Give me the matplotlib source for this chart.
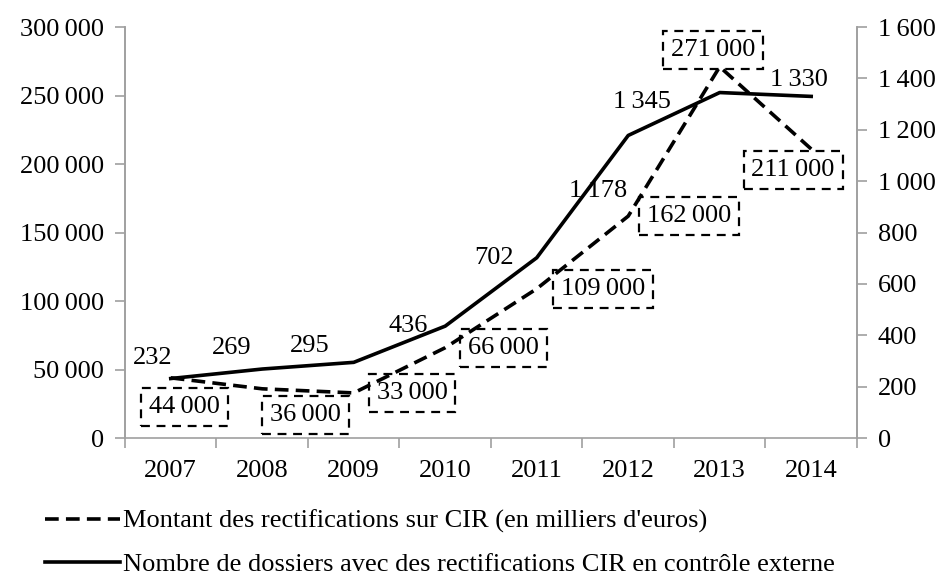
import numpy as np
import matplotlib.pyplot as plt

plt.rcParams['font.family'] = ['Liberation Serif', 'DejaVu Serif']

## Données
annees = ['2007', '2008', '2009', '2010', '2011', '2012', '2013', '2014']
montant = [44000, 36000, 33000, 66000, 109000, 162000, 271000, 211000]
dossiers = [232, 269, 295, 436, 702, 1178, 1345, 1330]

lab_montant = ['44\u2009000', '36\u2009000', '33\u2009000', '66\u2009000',
               '109\u2009000', '162\u2009000', '271\u2009000', '211\u2009000']
lab_dossiers = ['232', '269', '295', '436', '702', '1\u2009178', '1\u2009345', '1\u2009330']

# décalages des étiquettes (points)
off_montant = [(10, -21), (31, -19), (42, 0), (42, 0), (48, 0), (44, 0), (-5, 12), (-13, -15)]
off_dossiers = [(-13, 15), (-22, 15), (-32, 12), (-27, 0), (-31, 0), (-22, -40), (-56, -7), (-9, 12)]

fs = 19
gris = '#a0a0a0'

fig = plt.figure(figsize=(9.42, 5.75), dpi=100)
ax = fig.add_axes([0.1327, 0.238, 0.777, 0.715])
ax2 = ax.twinx()

x = np.arange(len(annees))
l1, = ax.plot(x, montant, color='black', lw=2.6, ls=(0, (3.8, 2)))
l2, = ax2.plot(x, dossiers, color='black', lw=2.6)

ax.set_xlim(-0.5, len(annees) - 0.5)
ax.set_ylim(0, 300000)
ax2.set_ylim(0, 1600)
ax.set_yticks(np.arange(0, 300001, 50000))
ax2.set_yticks(np.arange(0, 1601, 200))

def fmt(v):
    s = f'{int(v):,}'.replace(',', '\u2009')
    return s

ax.set_yticklabels([fmt(v) for v in ax.get_yticks()], fontsize=fs)
ax2.set_yticklabels([fmt(v) for v in ax2.get_yticks()], fontsize=fs)
ax.set_xticks(x)
ax.set_xticklabels(annees, fontsize=fs)
ax.set_xticks(np.arange(-0.5, len(annees), 1), minor=True)
ax.tick_params(axis='x', which='major', length=0, pad=16)
ax.tick_params(axis='x', which='minor', length=7, color=gris, width=1.2)
ax.tick_params(axis='y', length=7, color=gris, width=1.2, pad=8)
ax2.tick_params(axis='y', length=7, color=gris, width=1.2, pad=8)

for a in (ax, ax2):
    a.spines['top'].set_visible(False)
    for s in ('left', 'right', 'bottom'):
        a.spines[s].set_color(gris)
        a.spines[s].set_linewidth(1.2)
ax2.spines['bottom'].set_visible(False)

for i in range(len(annees)):
    ax.annotate(lab_montant[i], (x[i], montant[i]), xytext=off_montant[i],
                textcoords='offset points', ha='center', va='center', fontsize=fs,
                bbox=dict(boxstyle='square,pad=0.3', fc='none', ec='black',
                          lw=1.6, ls=(0, (4, 3))))
    ax2.annotate(lab_dossiers[i], (x[i], dossiers[i]), xytext=off_dossiers[i],
                 textcoords='offset points', ha='center', va='center', fontsize=fs)

fig.legend([l1, l2],
           ["Montant des rectifications sur CIR (en milliers d'euros)",
            'Nombre de dossiers avec des rectifications CIR en contrôle externe'],
           loc='upper left', bbox_to_anchor=(0.048, 0.114), frameon=False,
           fontsize=fs, handlelength=2.85, handletextpad=0.1, labelspacing=0.74,
           borderaxespad=0, borderpad=0)

plt.savefig('out.png', dpi=100)
